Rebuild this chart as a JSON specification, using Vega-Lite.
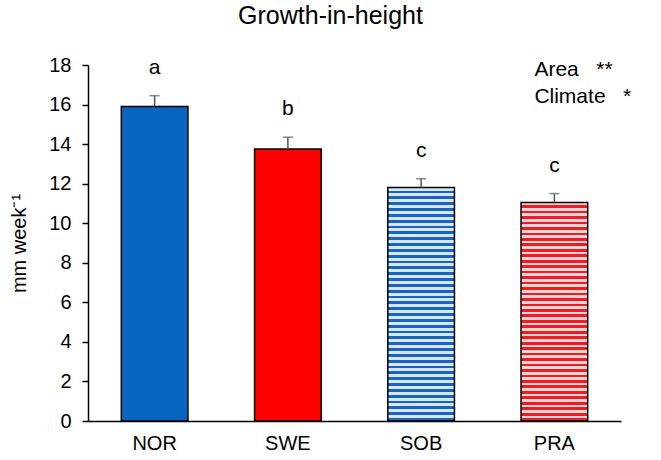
{
  "$schema": "https://vega.github.io/schema/vega-lite/v6.json",
  "width": 533,
  "height": 356,
  "autosize": {"type": "none"},
  "padding": {"left": 88, "top": 65, "right": 40, "bottom": 39},
  "background": "white",
  "config": {
    "view": {"stroke": null},
    "font": "Liberation Sans",
    "axis": {"grid": false, "domainColor": "black", "tickColor": "black", "labelColor": "black", "titleColor": "black", "labelFont": "Liberation Sans", "titleFont": "Liberation Sans"}
  },
  "title": {
    "text": "Growth-in-height",
    "fontSize": 25,
    "fontWeight": "normal",
    "color": "black",
    "anchor": "middle",
    "dx": -24,
    "offset": 26
  },
  "datasets": {
    "growth": [
      {"site": "NOR", "mean": 15.9, "upper": 16.45, "letter": "a"},
      {"site": "SWE", "mean": 13.75, "upper": 14.35, "letter": "b"},
      {"site": "SOB", "mean": 11.8, "upper": 12.25, "letter": "c"},
      {"site": "PRA", "mean": 11.05, "upper": 11.5, "letter": "c"}
    ],
    "effects": [
      {"effect": "Area\u00a0\u00a0\u00a0**", "level": 17.45},
      {"effect": "Climate\u00a0\u00a0\u00a0*", "level": 16.1}
    ]
  },
  "data": {"name": "growth"},
  "encoding": {
    "x": {
      "field": "site",
      "type": "nominal",
      "sort": ["NOR", "SWE", "SOB", "PRA"],
      "scale": {"paddingInner": 0.5, "paddingOuter": 0.25},
      "axis": {"title": null, "labelAngle": 0, "ticks": false, "labelPadding": 12, "labelFontSize": 20, "domainWidth": 1.5}
    },
    "y": {
      "field": "mean",
      "type": "quantitative",
      "scale": {"domain": [0, 18], "nice": false},
      "axis": {
        "title": "mm week⁻¹",
        "titleFontSize": 20,
        "titleFontWeight": "normal",
        "titlePadding": 19,
        "values": [0, 2, 4, 6, 8, 10, 12, 14, 16, 18],
        "labelFontSize": 20,
        "labelPadding": 11,
        "tickSize": 6,
        "tickWidth": 1.5,
        "domainWidth": 1.5
      }
    }
  },
  "layer": [
    {
      "transform": [{"filter": "datum.site === 'NOR' || datum.site === 'SWE'"}],
      "mark": {"type": "bar", "stroke": "black", "strokeWidth": 1.5},
      "encoding": {
        "color": {
          "field": "site",
          "type": "nominal",
          "scale": {"domain": ["NOR", "SWE"], "range": ["#0a64c2", "#ff0000"]},
          "legend": null
        }
      }
    },
    {
      "transform": [{"filter": "datum.site === 'SOB'"}],
      "mark": {
        "type": "bar",
        "stroke": "black",
        "strokeWidth": 1.5,
        "fill": {
          "gradient": "linear", "x1": 0, "y1": 0, "x2": 0, "y2": 1,
          "stops": [
            {"offset": 0, "color": "#d6e7f8"}, {"offset": 0.0125, "color": "#d6e7f8"}, {"offset": 0.0125, "color": "#1a64bd"}, {"offset": 0.025, "color": "#1a64bd"},
            {"offset": 0.025, "color": "#d6e7f8"}, {"offset": 0.0375, "color": "#d6e7f8"}, {"offset": 0.0375, "color": "#1a64bd"}, {"offset": 0.05, "color": "#1a64bd"},
            {"offset": 0.05, "color": "#d6e7f8"}, {"offset": 0.0625, "color": "#d6e7f8"}, {"offset": 0.0625, "color": "#1a64bd"}, {"offset": 0.075, "color": "#1a64bd"},
            {"offset": 0.075, "color": "#d6e7f8"}, {"offset": 0.0875, "color": "#d6e7f8"}, {"offset": 0.0875, "color": "#1a64bd"}, {"offset": 0.1, "color": "#1a64bd"},
            {"offset": 0.1, "color": "#d6e7f8"}, {"offset": 0.1125, "color": "#d6e7f8"}, {"offset": 0.1125, "color": "#1a64bd"}, {"offset": 0.125, "color": "#1a64bd"},
            {"offset": 0.125, "color": "#d6e7f8"}, {"offset": 0.1375, "color": "#d6e7f8"}, {"offset": 0.1375, "color": "#1a64bd"}, {"offset": 0.15, "color": "#1a64bd"},
            {"offset": 0.15, "color": "#d6e7f8"}, {"offset": 0.1625, "color": "#d6e7f8"}, {"offset": 0.1625, "color": "#1a64bd"}, {"offset": 0.175, "color": "#1a64bd"},
            {"offset": 0.175, "color": "#d6e7f8"}, {"offset": 0.1875, "color": "#d6e7f8"}, {"offset": 0.1875, "color": "#1a64bd"}, {"offset": 0.2, "color": "#1a64bd"},
            {"offset": 0.2, "color": "#d6e7f8"}, {"offset": 0.2125, "color": "#d6e7f8"}, {"offset": 0.2125, "color": "#1a64bd"}, {"offset": 0.225, "color": "#1a64bd"},
            {"offset": 0.225, "color": "#d6e7f8"}, {"offset": 0.2375, "color": "#d6e7f8"}, {"offset": 0.2375, "color": "#1a64bd"}, {"offset": 0.25, "color": "#1a64bd"},
            {"offset": 0.25, "color": "#d6e7f8"}, {"offset": 0.2625, "color": "#d6e7f8"}, {"offset": 0.2625, "color": "#1a64bd"}, {"offset": 0.275, "color": "#1a64bd"},
            {"offset": 0.275, "color": "#d6e7f8"}, {"offset": 0.2875, "color": "#d6e7f8"}, {"offset": 0.2875, "color": "#1a64bd"}, {"offset": 0.3, "color": "#1a64bd"},
            {"offset": 0.3, "color": "#d6e7f8"}, {"offset": 0.3125, "color": "#d6e7f8"}, {"offset": 0.3125, "color": "#1a64bd"}, {"offset": 0.325, "color": "#1a64bd"},
            {"offset": 0.325, "color": "#d6e7f8"}, {"offset": 0.3375, "color": "#d6e7f8"}, {"offset": 0.3375, "color": "#1a64bd"}, {"offset": 0.35, "color": "#1a64bd"},
            {"offset": 0.35, "color": "#d6e7f8"}, {"offset": 0.3625, "color": "#d6e7f8"}, {"offset": 0.3625, "color": "#1a64bd"}, {"offset": 0.375, "color": "#1a64bd"},
            {"offset": 0.375, "color": "#d6e7f8"}, {"offset": 0.3875, "color": "#d6e7f8"}, {"offset": 0.3875, "color": "#1a64bd"}, {"offset": 0.4, "color": "#1a64bd"},
            {"offset": 0.4, "color": "#d6e7f8"}, {"offset": 0.4125, "color": "#d6e7f8"}, {"offset": 0.4125, "color": "#1a64bd"}, {"offset": 0.425, "color": "#1a64bd"},
            {"offset": 0.425, "color": "#d6e7f8"}, {"offset": 0.4375, "color": "#d6e7f8"}, {"offset": 0.4375, "color": "#1a64bd"}, {"offset": 0.45, "color": "#1a64bd"},
            {"offset": 0.45, "color": "#d6e7f8"}, {"offset": 0.4625, "color": "#d6e7f8"}, {"offset": 0.4625, "color": "#1a64bd"}, {"offset": 0.475, "color": "#1a64bd"},
            {"offset": 0.475, "color": "#d6e7f8"}, {"offset": 0.4875, "color": "#d6e7f8"}, {"offset": 0.4875, "color": "#1a64bd"}, {"offset": 0.5, "color": "#1a64bd"},
            {"offset": 0.5, "color": "#d6e7f8"}, {"offset": 0.5125, "color": "#d6e7f8"}, {"offset": 0.5125, "color": "#1a64bd"}, {"offset": 0.525, "color": "#1a64bd"},
            {"offset": 0.525, "color": "#d6e7f8"}, {"offset": 0.5375, "color": "#d6e7f8"}, {"offset": 0.5375, "color": "#1a64bd"}, {"offset": 0.55, "color": "#1a64bd"},
            {"offset": 0.55, "color": "#d6e7f8"}, {"offset": 0.5625, "color": "#d6e7f8"}, {"offset": 0.5625, "color": "#1a64bd"}, {"offset": 0.575, "color": "#1a64bd"},
            {"offset": 0.575, "color": "#d6e7f8"}, {"offset": 0.5875, "color": "#d6e7f8"}, {"offset": 0.5875, "color": "#1a64bd"}, {"offset": 0.6, "color": "#1a64bd"},
            {"offset": 0.6, "color": "#d6e7f8"}, {"offset": 0.6125, "color": "#d6e7f8"}, {"offset": 0.6125, "color": "#1a64bd"}, {"offset": 0.625, "color": "#1a64bd"},
            {"offset": 0.625, "color": "#d6e7f8"}, {"offset": 0.6375, "color": "#d6e7f8"}, {"offset": 0.6375, "color": "#1a64bd"}, {"offset": 0.65, "color": "#1a64bd"},
            {"offset": 0.65, "color": "#d6e7f8"}, {"offset": 0.6625, "color": "#d6e7f8"}, {"offset": 0.6625, "color": "#1a64bd"}, {"offset": 0.675, "color": "#1a64bd"},
            {"offset": 0.675, "color": "#d6e7f8"}, {"offset": 0.6875, "color": "#d6e7f8"}, {"offset": 0.6875, "color": "#1a64bd"}, {"offset": 0.7, "color": "#1a64bd"},
            {"offset": 0.7, "color": "#d6e7f8"}, {"offset": 0.7125, "color": "#d6e7f8"}, {"offset": 0.7125, "color": "#1a64bd"}, {"offset": 0.725, "color": "#1a64bd"},
            {"offset": 0.725, "color": "#d6e7f8"}, {"offset": 0.7375, "color": "#d6e7f8"}, {"offset": 0.7375, "color": "#1a64bd"}, {"offset": 0.75, "color": "#1a64bd"},
            {"offset": 0.75, "color": "#d6e7f8"}, {"offset": 0.7625, "color": "#d6e7f8"}, {"offset": 0.7625, "color": "#1a64bd"}, {"offset": 0.775, "color": "#1a64bd"},
            {"offset": 0.775, "color": "#d6e7f8"}, {"offset": 0.7875, "color": "#d6e7f8"}, {"offset": 0.7875, "color": "#1a64bd"}, {"offset": 0.8, "color": "#1a64bd"},
            {"offset": 0.8, "color": "#d6e7f8"}, {"offset": 0.8125, "color": "#d6e7f8"}, {"offset": 0.8125, "color": "#1a64bd"}, {"offset": 0.825, "color": "#1a64bd"},
            {"offset": 0.825, "color": "#d6e7f8"}, {"offset": 0.8375, "color": "#d6e7f8"}, {"offset": 0.8375, "color": "#1a64bd"}, {"offset": 0.85, "color": "#1a64bd"},
            {"offset": 0.85, "color": "#d6e7f8"}, {"offset": 0.8625, "color": "#d6e7f8"}, {"offset": 0.8625, "color": "#1a64bd"}, {"offset": 0.875, "color": "#1a64bd"},
            {"offset": 0.875, "color": "#d6e7f8"}, {"offset": 0.8875, "color": "#d6e7f8"}, {"offset": 0.8875, "color": "#1a64bd"}, {"offset": 0.9, "color": "#1a64bd"},
            {"offset": 0.9, "color": "#d6e7f8"}, {"offset": 0.9125, "color": "#d6e7f8"}, {"offset": 0.9125, "color": "#1a64bd"}, {"offset": 0.925, "color": "#1a64bd"},
            {"offset": 0.925, "color": "#d6e7f8"}, {"offset": 0.9375, "color": "#d6e7f8"}, {"offset": 0.9375, "color": "#1a64bd"}, {"offset": 0.95, "color": "#1a64bd"},
            {"offset": 0.95, "color": "#d6e7f8"}, {"offset": 0.9625, "color": "#d6e7f8"}, {"offset": 0.9625, "color": "#1a64bd"}, {"offset": 0.975, "color": "#1a64bd"},
            {"offset": 0.975, "color": "#d6e7f8"}, {"offset": 0.9875, "color": "#d6e7f8"}, {"offset": 0.9875, "color": "#1a64bd"}, {"offset": 1, "color": "#1a64bd"}
          ]
        }
      }
    },
    {
      "transform": [{"filter": "datum.site === 'PRA'"}],
      "mark": {
        "type": "bar",
        "stroke": "black",
        "strokeWidth": 1.5,
        "fill": {
          "gradient": "linear", "x1": 0, "y1": 0, "x2": 0, "y2": 1,
          "stops": [
            {"offset": 0, "color": "#ffd4d4"}, {"offset": 0.0125, "color": "#ffd4d4"}, {"offset": 0.0125, "color": "#ee1c24"}, {"offset": 0.025, "color": "#ee1c24"},
            {"offset": 0.025, "color": "#ffd4d4"}, {"offset": 0.0375, "color": "#ffd4d4"}, {"offset": 0.0375, "color": "#ee1c24"}, {"offset": 0.05, "color": "#ee1c24"},
            {"offset": 0.05, "color": "#ffd4d4"}, {"offset": 0.0625, "color": "#ffd4d4"}, {"offset": 0.0625, "color": "#ee1c24"}, {"offset": 0.075, "color": "#ee1c24"},
            {"offset": 0.075, "color": "#ffd4d4"}, {"offset": 0.0875, "color": "#ffd4d4"}, {"offset": 0.0875, "color": "#ee1c24"}, {"offset": 0.1, "color": "#ee1c24"},
            {"offset": 0.1, "color": "#ffd4d4"}, {"offset": 0.1125, "color": "#ffd4d4"}, {"offset": 0.1125, "color": "#ee1c24"}, {"offset": 0.125, "color": "#ee1c24"},
            {"offset": 0.125, "color": "#ffd4d4"}, {"offset": 0.1375, "color": "#ffd4d4"}, {"offset": 0.1375, "color": "#ee1c24"}, {"offset": 0.15, "color": "#ee1c24"},
            {"offset": 0.15, "color": "#ffd4d4"}, {"offset": 0.1625, "color": "#ffd4d4"}, {"offset": 0.1625, "color": "#ee1c24"}, {"offset": 0.175, "color": "#ee1c24"},
            {"offset": 0.175, "color": "#ffd4d4"}, {"offset": 0.1875, "color": "#ffd4d4"}, {"offset": 0.1875, "color": "#ee1c24"}, {"offset": 0.2, "color": "#ee1c24"},
            {"offset": 0.2, "color": "#ffd4d4"}, {"offset": 0.2125, "color": "#ffd4d4"}, {"offset": 0.2125, "color": "#ee1c24"}, {"offset": 0.225, "color": "#ee1c24"},
            {"offset": 0.225, "color": "#ffd4d4"}, {"offset": 0.2375, "color": "#ffd4d4"}, {"offset": 0.2375, "color": "#ee1c24"}, {"offset": 0.25, "color": "#ee1c24"},
            {"offset": 0.25, "color": "#ffd4d4"}, {"offset": 0.2625, "color": "#ffd4d4"}, {"offset": 0.2625, "color": "#ee1c24"}, {"offset": 0.275, "color": "#ee1c24"},
            {"offset": 0.275, "color": "#ffd4d4"}, {"offset": 0.2875, "color": "#ffd4d4"}, {"offset": 0.2875, "color": "#ee1c24"}, {"offset": 0.3, "color": "#ee1c24"},
            {"offset": 0.3, "color": "#ffd4d4"}, {"offset": 0.3125, "color": "#ffd4d4"}, {"offset": 0.3125, "color": "#ee1c24"}, {"offset": 0.325, "color": "#ee1c24"},
            {"offset": 0.325, "color": "#ffd4d4"}, {"offset": 0.3375, "color": "#ffd4d4"}, {"offset": 0.3375, "color": "#ee1c24"}, {"offset": 0.35, "color": "#ee1c24"},
            {"offset": 0.35, "color": "#ffd4d4"}, {"offset": 0.3625, "color": "#ffd4d4"}, {"offset": 0.3625, "color": "#ee1c24"}, {"offset": 0.375, "color": "#ee1c24"},
            {"offset": 0.375, "color": "#ffd4d4"}, {"offset": 0.3875, "color": "#ffd4d4"}, {"offset": 0.3875, "color": "#ee1c24"}, {"offset": 0.4, "color": "#ee1c24"},
            {"offset": 0.4, "color": "#ffd4d4"}, {"offset": 0.4125, "color": "#ffd4d4"}, {"offset": 0.4125, "color": "#ee1c24"}, {"offset": 0.425, "color": "#ee1c24"},
            {"offset": 0.425, "color": "#ffd4d4"}, {"offset": 0.4375, "color": "#ffd4d4"}, {"offset": 0.4375, "color": "#ee1c24"}, {"offset": 0.45, "color": "#ee1c24"},
            {"offset": 0.45, "color": "#ffd4d4"}, {"offset": 0.4625, "color": "#ffd4d4"}, {"offset": 0.4625, "color": "#ee1c24"}, {"offset": 0.475, "color": "#ee1c24"},
            {"offset": 0.475, "color": "#ffd4d4"}, {"offset": 0.4875, "color": "#ffd4d4"}, {"offset": 0.4875, "color": "#ee1c24"}, {"offset": 0.5, "color": "#ee1c24"},
            {"offset": 0.5, "color": "#ffd4d4"}, {"offset": 0.5125, "color": "#ffd4d4"}, {"offset": 0.5125, "color": "#ee1c24"}, {"offset": 0.525, "color": "#ee1c24"},
            {"offset": 0.525, "color": "#ffd4d4"}, {"offset": 0.5375, "color": "#ffd4d4"}, {"offset": 0.5375, "color": "#ee1c24"}, {"offset": 0.55, "color": "#ee1c24"},
            {"offset": 0.55, "color": "#ffd4d4"}, {"offset": 0.5625, "color": "#ffd4d4"}, {"offset": 0.5625, "color": "#ee1c24"}, {"offset": 0.575, "color": "#ee1c24"},
            {"offset": 0.575, "color": "#ffd4d4"}, {"offset": 0.5875, "color": "#ffd4d4"}, {"offset": 0.5875, "color": "#ee1c24"}, {"offset": 0.6, "color": "#ee1c24"},
            {"offset": 0.6, "color": "#ffd4d4"}, {"offset": 0.6125, "color": "#ffd4d4"}, {"offset": 0.6125, "color": "#ee1c24"}, {"offset": 0.625, "color": "#ee1c24"},
            {"offset": 0.625, "color": "#ffd4d4"}, {"offset": 0.6375, "color": "#ffd4d4"}, {"offset": 0.6375, "color": "#ee1c24"}, {"offset": 0.65, "color": "#ee1c24"},
            {"offset": 0.65, "color": "#ffd4d4"}, {"offset": 0.6625, "color": "#ffd4d4"}, {"offset": 0.6625, "color": "#ee1c24"}, {"offset": 0.675, "color": "#ee1c24"},
            {"offset": 0.675, "color": "#ffd4d4"}, {"offset": 0.6875, "color": "#ffd4d4"}, {"offset": 0.6875, "color": "#ee1c24"}, {"offset": 0.7, "color": "#ee1c24"},
            {"offset": 0.7, "color": "#ffd4d4"}, {"offset": 0.7125, "color": "#ffd4d4"}, {"offset": 0.7125, "color": "#ee1c24"}, {"offset": 0.725, "color": "#ee1c24"},
            {"offset": 0.725, "color": "#ffd4d4"}, {"offset": 0.7375, "color": "#ffd4d4"}, {"offset": 0.7375, "color": "#ee1c24"}, {"offset": 0.75, "color": "#ee1c24"},
            {"offset": 0.75, "color": "#ffd4d4"}, {"offset": 0.7625, "color": "#ffd4d4"}, {"offset": 0.7625, "color": "#ee1c24"}, {"offset": 0.775, "color": "#ee1c24"},
            {"offset": 0.775, "color": "#ffd4d4"}, {"offset": 0.7875, "color": "#ffd4d4"}, {"offset": 0.7875, "color": "#ee1c24"}, {"offset": 0.8, "color": "#ee1c24"},
            {"offset": 0.8, "color": "#ffd4d4"}, {"offset": 0.8125, "color": "#ffd4d4"}, {"offset": 0.8125, "color": "#ee1c24"}, {"offset": 0.825, "color": "#ee1c24"},
            {"offset": 0.825, "color": "#ffd4d4"}, {"offset": 0.8375, "color": "#ffd4d4"}, {"offset": 0.8375, "color": "#ee1c24"}, {"offset": 0.85, "color": "#ee1c24"},
            {"offset": 0.85, "color": "#ffd4d4"}, {"offset": 0.8625, "color": "#ffd4d4"}, {"offset": 0.8625, "color": "#ee1c24"}, {"offset": 0.875, "color": "#ee1c24"},
            {"offset": 0.875, "color": "#ffd4d4"}, {"offset": 0.8875, "color": "#ffd4d4"}, {"offset": 0.8875, "color": "#ee1c24"}, {"offset": 0.9, "color": "#ee1c24"},
            {"offset": 0.9, "color": "#ffd4d4"}, {"offset": 0.9125, "color": "#ffd4d4"}, {"offset": 0.9125, "color": "#ee1c24"}, {"offset": 0.925, "color": "#ee1c24"},
            {"offset": 0.925, "color": "#ffd4d4"}, {"offset": 0.9375, "color": "#ffd4d4"}, {"offset": 0.9375, "color": "#ee1c24"}, {"offset": 0.95, "color": "#ee1c24"},
            {"offset": 0.95, "color": "#ffd4d4"}, {"offset": 0.9625, "color": "#ffd4d4"}, {"offset": 0.9625, "color": "#ee1c24"}, {"offset": 0.975, "color": "#ee1c24"},
            {"offset": 0.975, "color": "#ffd4d4"}, {"offset": 0.9875, "color": "#ffd4d4"}, {"offset": 0.9875, "color": "#ee1c24"}, {"offset": 1, "color": "#ee1c24"}
          ]
        }
      }
    },
    {
      "mark": {"type": "rule", "color": "#555555", "strokeWidth": 1.5},
      "encoding": {"y2": {"field": "upper"}}
    },
    {
      "mark": {"type": "tick", "color": "#555555", "size": 10, "thickness": 1.5},
      "encoding": {"y": {"field": "upper", "type": "quantitative"}}
    },
    {
      "mark": {"type": "text", "fontSize": 21, "color": "black", "baseline": "alphabetic", "dy": -22},
      "encoding": {
        "y": {"field": "upper", "type": "quantitative"},
        "text": {"field": "letter"}
      }
    },
    {
      "data": {"name": "effects"},
      "mark": {"type": "text", "fontSize": 21, "color": "black", "align": "left", "baseline": "alphabetic", "dx": -20},
      "encoding": {
        "x": {"datum": "PRA"},
        "y": {"field": "level", "type": "quantitative"},
        "text": {"field": "effect"}
      }
    }
  ]
}
